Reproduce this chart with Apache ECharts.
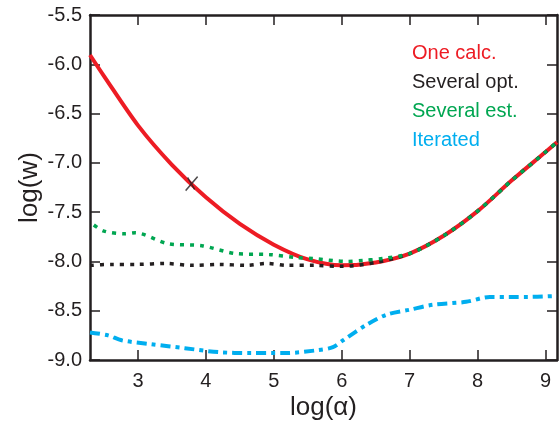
<!DOCTYPE html>
<html><head><meta charset="utf-8">
<script src="https://cdn.jsdelivr.net/npm/echarts@6/dist/echarts.min.js"></script>
<style>html,body{margin:0;padding:0;background:#fff}#c{width:559px;height:422px}</style>
</head><body><div id="c"></div>
<script>
const seriesNames = ['One calc.', 'Several opt.', 'Several est.', 'Iterated'];
const redX = [2.294, 2.5, 3.0, 3.5, 4.0, 4.5, 5.0, 5.5, 6.0, 6.5, 7.0, 7.5, 8.0, 8.5, 9.0, 9.169];
const redY = [-5.906, -6.12, -6.62, -7.02, -7.35, -7.62, -7.83, -7.98, -8.04, -8.01, -7.92, -7.74, -7.49, -7.18, -6.89, -6.79];
const blackX = [2.294, 2.6, 3.0, 3.4, 3.8, 4.2, 4.6, 4.9, 5.2, 5.6, 6.0, 6.5, 7.0, 7.5, 8.0, 8.5, 9.0, 9.169];
const blackY = [-8.04, -8.03, -8.03, -8.02, -8.04, -8.03, -8.04, -8.02, -8.04, -8.04, -8.05, -8.01, -7.92, -7.74, -7.49, -7.18, -6.89, -6.79];
const greenX = [2.294, 2.49, 2.81, 2.96, 3.44, 3.94, 4.44, 4.93, 5.33, 5.57, 6.07, 6.31, 6.6, 7.0, 7.5, 8.0, 8.5, 9.0, 9.169];
const greenY = [-7.60, -7.69, -7.72, -7.71, -7.82, -7.84, -7.92, -7.93, -7.96, -7.97, -8.00, -7.99, -7.97, -7.92, -7.74, -7.49, -7.18, -6.89, -6.79];
const cyanX = [2.294, 2.56, 2.76, 3.20, 3.69, 4.18, 4.67, 5.16, 5.65, 5.87, 6.02, 6.36, 6.66, 7.0, 7.34, 7.83, 8.18, 8.47, 8.76, 9.169];
const cyanY = [-8.72, -8.75, -8.80, -8.84, -8.88, -8.92, -8.93, -8.93, -8.90, -8.87, -8.80, -8.645, -8.54, -8.49, -8.44, -8.41, -8.36, -8.36, -8.36, -8.35];
const markX = [3.79];
const markY = [-7.21];
const xTicks = [3, 4, 5, 6, 7, 8, 9];

const colors = ['#ed1c24', '#231f20', '#00a651', '#00aeef'];
const ink = '#231f20';
const font = '"Liberation Sans", Arial, sans-serif';
const zip = (xs, ys) => xs.map((x, i) => [x, ys[i]]);

const axisLine = {show: true, onZero: false, lineStyle: {color: ink, width: 2.5}};
const tick = {show: true, inside: true, length: 10, lineStyle: {color: ink, width: 1.5}};

const chart = echarts.init(document.getElementById('c'), null, {renderer: 'canvas'});
chart.setOption({
  animation: false,
  backgroundColor: '#fff',
  grid: {left: 90, right: 2, top: 15, bottom: 62, containLabel: false, outerBoundsMode: 'none'},
  legend: {
    orient: 'vertical', left: 412, top: 43, padding: 0,
    icon: 'none', itemWidth: 0, itemHeight: 20, itemGap: 9,
    selectedMode: false,
    data: seriesNames.map((n, i) => ({name: n, textStyle: {color: colors[i]}})),
    textStyle: {fontSize: 20, fontFamily: font, padding: [0, 0, 0, -5]}
  },
  xAxis: [{
    type: 'value', min: 2.294, max: 9.169, position: 'bottom',
    axisLine: axisLine,
    axisTick: Object.assign({customValues: xTicks}, tick),
    axisLabel: {customValues: xTicks, color: ink, fontSize: 20, fontFamily: font, margin: 11},
    splitLine: {show: false},
    name: 'log(α)', nameLocation: 'middle', nameGap: 35, nameMoveOverlap: false,
    nameTextStyle: {color: ink, fontSize: 26, fontFamily: font}
  }, {
    type: 'value', min: 2.294, max: 9.169, position: 'top',
    axisLine: axisLine,
    axisTick: Object.assign({customValues: xTicks}, tick),
    axisLabel: {show: false}, splitLine: {show: false}
  }],
  yAxis: [{
    type: 'value', min: -9, max: -5.5, interval: 0.5, position: 'left',
    axisLine: axisLine, axisTick: tick,
    axisLabel: {color: ink, fontSize: 20, fontFamily: font, margin: 8, formatter: v => v.toFixed(1)},
    splitLine: {show: false},
    name: 'log(w)', nameLocation: 'middle', nameGap: 47, nameRotate: 90, nameMoveOverlap: false,
    nameTextStyle: {color: ink, fontSize: 26, fontFamily: font}
  }, {
    type: 'value', min: -9, max: -5.5, interval: 0.5, position: 'right',
    axisLine: axisLine, axisTick: tick,
    axisLabel: {show: false}, splitLine: {show: false}
  }],
  series: [
    {name: seriesNames[0], type: 'line', data: zip(redX, redY), smooth: 0.3, symbol: 'none', z: 2,
     lineStyle: {color: colors[0], width: 4}},
    {name: seriesNames[1], type: 'line', data: zip(blackX, blackY), smooth: 0.3, symbol: 'none', z: 3,
     lineStyle: {color: colors[1], width: 3.5, type: [4, 6], cap: 'butt'}},
    {name: seriesNames[2], type: 'line', data: zip(greenX, greenY), smooth: 0.3, symbol: 'none', z: 4,
     lineStyle: {color: colors[2], width: 3.5, type: [4, 6], dashOffset: 5, cap: 'butt'}},
    {name: seriesNames[3], type: 'line', data: zip(cyanX, cyanY), smooth: 0.3, symbol: 'none', z: 3,
     lineStyle: {color: colors[3], width: 4, type: [10, 5, 4, 5], cap: 'butt'}},
    {name: 'mark', type: 'scatter', data: zip(markX, markY), z: 5,
     symbol: 'path://M0,14 L12,0 M2,1 L9,13', symbolSize: [12, 14],
     itemStyle: {color: 'transparent', borderColor: ink, borderWidth: 1.5}}
  ]
});
</script></body></html>
